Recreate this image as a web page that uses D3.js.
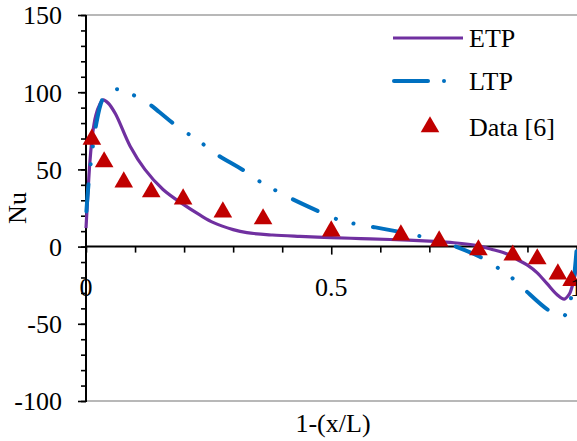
<!DOCTYPE html>
<html><head><meta charset="utf-8">
<script src="https://cdn.jsdelivr.net/npm/d3@7"></script>
<style>
body{margin:0;background:#fff;}
svg text{font-family:"Liberation Serif","Times New Roman",serif !important;}
</style></head>
<body>
<svg id="c" width="577" height="441"></svg>
<script>
const etpX = [0,0.004,0.008,0.013,0.02,0.028,0.035,0.045,0.06,0.09,0.12,0.157,0.2,0.232,0.26,0.3,0.328,0.38,0.436,0.5,0.56,0.62,0.7,0.75,0.8,0.83,0.86,0.88,0.9,0.92,0.94,0.96,0.975,0.985,0.99,0.995,1.0];
const etpY = [12,35,55,72,85,92,95,93,86,65,50,37,27,20.5,15.5,11,9,7.5,6.6,5.8,5.2,4.6,3.5,2.5,0.5,-2,-5,-8.5,-12,-17,-24,-31,-34,-31,-27,-21,-14];

const ltpX = [0,0.005,0.012,0.02,0.033,0.045,0.061,0.094,0.126,0.15,0.177,0.206,0.236,0.265,0.32,0.35,0.383,0.416,0.473,0.505,0.54,0.575,0.64,0.677,0.71,0.746,0.803,0.836,0.866,0.893,0.942,0.972,0.985,0.993,1.0];
const ltpY = [19,40,60,78,95,100,102,98.5,93,87,80,73.5,67,60,49.6,43,37,31.5,23,18.5,15.3,13.3,9.5,7,4.5,1,-6.6,-13,-19.6,-27.5,-41,-45.5,-38,-25,-3];

const dataX = [0.012,0.037,0.077,0.133,0.198,0.279,0.361,0.50,0.642,0.72,0.80,0.87,0.92,0.962,0.99];
const dataY = [69.5,54.8,41.8,35.4,30.8,22.4,17.9,10.1,7.5,3.6,-2.2,-5.6,-8,-17.8,-22];

const yMajor = [-100,-50,0,50,100,150];
const yMinor = d3.range(-100,151,10);
const xTicks = d3.range(0,1.0001,0.1);
const xLabels = ["0","0.5","1"];
const xLabelPos = [0,0.5,1];
const legendNames = ["ETP","LTP","Data [6]"];

const FONT = "Liberation Serif, Times New Roman, serif";
const FS = 26;
const svg = d3.select("#c");
const L=86, R=576.5, T=15, B=401;
const x = d3.scaleLinear().domain([0,1]).range([L,R]);
const y = d3.scaleLinear().domain([-100,150]).range([B,T]);

svg.append("line").attr("x1",L).attr("x2",577).attr("y1",T).attr("y2",T).attr("stroke","#a0a0a0").attr("stroke-width",1.3);
svg.append("line").attr("x1",L).attr("x2",577).attr("y1",B).attr("y2",B).attr("stroke","#a0a0a0").attr("stroke-width",1.3);

const gyMin = svg.append("g").attr("transform",`translate(${L},0)`)
  .call(d3.axisLeft(y).tickValues(yMinor).tickSize(5).tickFormat(""));
const gy = svg.append("g").attr("transform",`translate(${L},0)`)
  .call(d3.axisLeft(y).tickValues(yMajor).tickSize(8).tickPadding(16).tickFormat(d=>String(d)));
[gyMin,gy].forEach(g=>{g.attr("font-family",FONT);g.select(".domain").remove();g.selectAll("line").attr("stroke","#000").attr("stroke-width",1.6);});
gy.selectAll("text").attr("font-size",FS).attr("fill","#000").attr("dy","0.34em");
svg.append("line").attr("x1",L).attr("x2",L).attr("y1",T).attr("y2",B+1).attr("stroke","#000").attr("stroke-width",2);

const gx = svg.append("g").attr("transform",`translate(0,${y(0)})`)
  .call(d3.axisBottom(x).tickValues(xTicks).tickSize(6).tickFormat(""));
gx.select(".domain").remove();
gx.selectAll("line").attr("stroke","#000").attr("stroke-width",1.6);
gx.selectAll(".tick").filter(d=>Math.abs(d-0.5)<1e-6).select("line").attr("y2",8);
svg.append("line").attr("x1",L).attr("x2",577).attr("y1",y(0)).attr("y2",y(0)).attr("stroke","#000").attr("stroke-width",2);

const etp = etpX.map((v,i)=>[v,etpY[i]]);
const ltp = ltpX.map((v,i)=>[v,ltpY[i]]);
const lineC = d3.line().x(d=>x(d[0])).y(d=>y(d[1])).curve(d3.curveCatmullRom.alpha(0.5));
svg.append("path").attr("d",lineC(etp)).attr("fill","none").attr("stroke","#7030A0").attr("stroke-width",3.2).attr("stroke-linejoin","round");
svg.append("path").attr("d",lineC(ltp)).attr("fill","none").attr("stroke","#0070C0").attr("stroke-width",4)
  .attr("stroke-linecap","round").attr("stroke-dasharray","27 20 0.1 18 0.1 20").attr("stroke-dashoffset",-6);

const tri = d3.symbol().type(d3.symbolTriangle).size(150);
svg.append("g").selectAll("path").data(dataX.map((v,i)=>[v,dataY[i]])).join("path")
  .attr("d",tri).attr("transform",d=>`translate(${x(d[0])},${y(d[1])})`).attr("fill","#C00000");

svg.append("g").selectAll("text").data(xLabels).join("text")
  .attr("x",(d,i)=>x(xLabelPos[i])).attr("y",y(0)+49).attr("text-anchor","middle").attr("font-size",FS).text(d=>d);

svg.append("text").attr("transform",`translate(26,${(T+B)/2}) rotate(-90)`).attr("text-anchor","middle").attr("font-size",FS).text("Nu");
svg.append("text").attr("x",333).attr("y",432).attr("text-anchor","middle").attr("font-size",FS).text("1-(x/L)");

const lg = svg.append("g");
lg.append("line").attr("x1",393).attr("x2",463).attr("y1",38).attr("y2",38).attr("stroke","#7030A0").attr("stroke-width",3.2);
lg.append("line").attr("x1",394).attr("x2",428).attr("y1",81).attr("y2",81).attr("stroke","#0070C0").attr("stroke-width",4).attr("stroke-linecap","round");
lg.append("circle").attr("cx",444).attr("cy",81).attr("r",2).attr("fill","#0070C0");
lg.append("path").attr("d",tri).attr("transform","translate(430,127)").attr("fill","#C00000");
lg.selectAll("text").data(legendNames).join("text")
  .attr("x",469).attr("y",(d,i)=>[38,81,127][i]).attr("dy","0.34em").attr("font-size",FS).text(d=>d);
</script>
</body></html>
